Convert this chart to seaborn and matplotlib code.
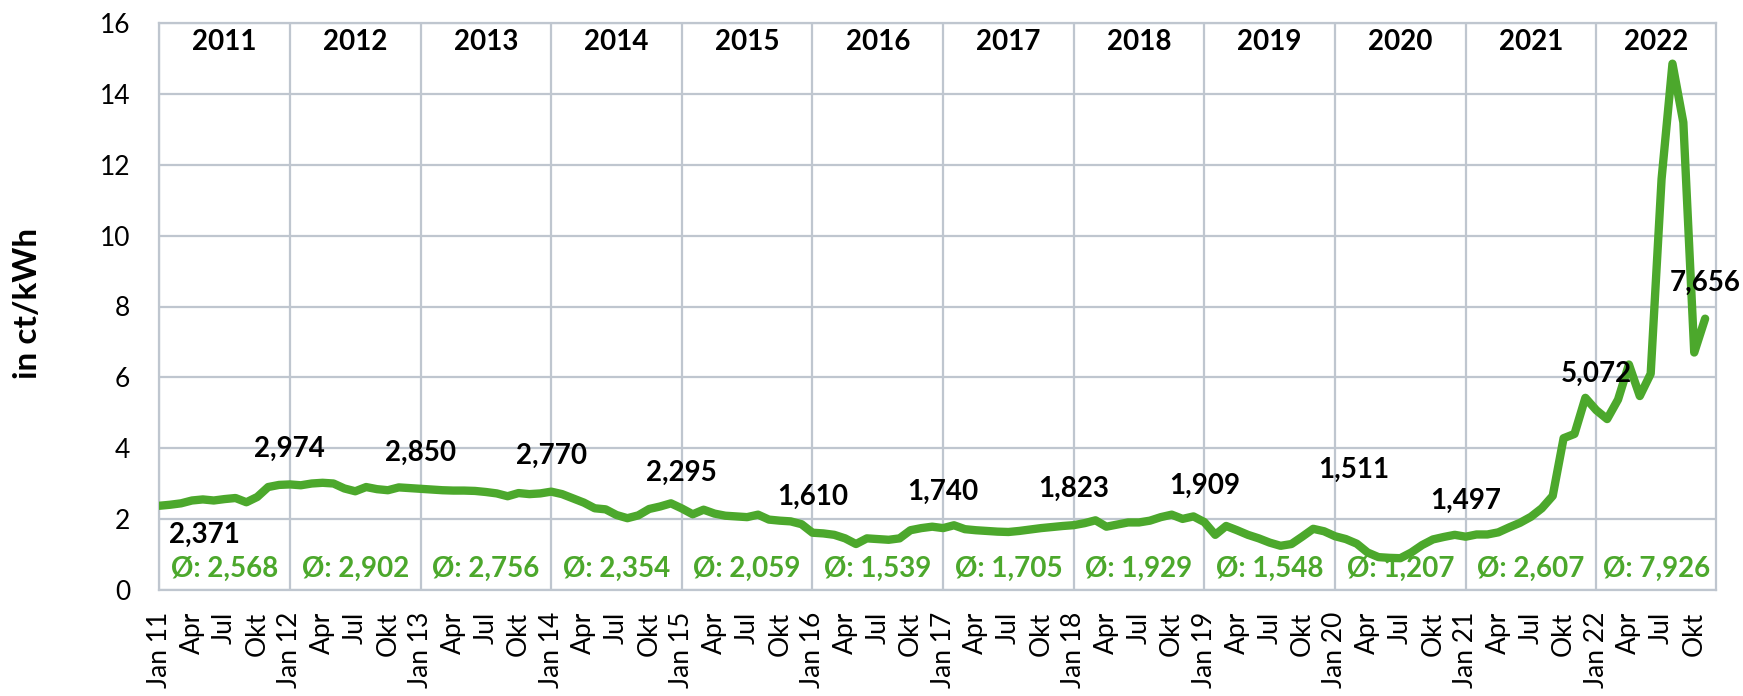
import numpy as np
import pandas as pd
import matplotlib
matplotlib.use("Agg")
import matplotlib.pyplot as plt
import seaborn as sns

# ---------------- data (ct/kWh, monthly) ----------------
years = [2011, 2012, 2013, 2014, 2015, 2016, 2017, 2018, 2019, 2020, 2021, 2022]
quarter_labels = ["Jan", "Apr", "Jul", "Okt"]

p2011 = [2.371, 2.40, 2.44, 2.52, 2.55, 2.52, 2.56, 2.59, 2.47, 2.62, 2.90, 2.96]
p2012 = [2.974, 2.95, 3.00, 3.02, 3.00, 2.86, 2.78, 2.90, 2.84, 2.81, 2.89, 2.87]
p2013 = [2.850, 2.83, 2.81, 2.80, 2.80, 2.79, 2.76, 2.72, 2.64, 2.73, 2.70, 2.72]
p2014 = [2.770, 2.70, 2.58, 2.46, 2.30, 2.27, 2.11, 2.02, 2.10, 2.28, 2.35, 2.44]
p2015 = [2.295, 2.13, 2.26, 2.15, 2.09, 2.07, 2.05, 2.12, 1.98, 1.95, 1.93, 1.85]
p2016 = [1.610, 1.59, 1.55, 1.45, 1.29, 1.45, 1.43, 1.41, 1.45, 1.68, 1.74, 1.78]
p2017 = [1.740, 1.82, 1.71, 1.68, 1.66, 1.64, 1.63, 1.66, 1.70, 1.74, 1.77, 1.80]
p2018 = [1.823, 1.88, 1.96, 1.78, 1.84, 1.90, 1.90, 1.95, 2.05, 2.12, 2.00, 2.07]
p2019 = [1.909, 1.55, 1.80, 1.68, 1.55, 1.45, 1.33, 1.24, 1.29, 1.50, 1.72, 1.65]
p2020 = [1.511, 1.43, 1.30, 1.05, 0.92, 0.90, 0.89, 1.05, 1.26, 1.42, 1.49, 1.55]
p2021 = [1.497, 1.56, 1.56, 1.62, 1.76, 1.89, 2.06, 2.30, 2.65, 4.28, 4.40, 5.42]
p2022 = [5.072, 4.82, 5.37, 6.36, 5.47, 6.10, 11.60, 14.86, 13.20, 6.70, 7.656]

year_avgs = [2.568, 2.902, 2.756, 2.354, 2.059, 1.539, 1.705, 1.929, 1.548, 1.207, 2.607, 7.926]

# ---------------- build frame ----------------
series = [p2011, p2012, p2013, p2014, p2015, p2016, p2017, p2018, p2019, p2020, p2021, p2022]
values = [v for s in series for v in s]
df = pd.DataFrame({"m": np.arange(len(values)), "price": values})
n_cats = 12 * len(years)  # Jan 11 .. Dec 22

GREEN = "#4CA82C"
GRID = "#BFC6CF"

sns.set_theme(style="white")
plt.rcParams["font.family"] = ["Lato", "DejaVu Sans"]

W, H = 1743, 696
fig = plt.figure(figsize=(W / 100, H / 100), dpi=100)
left, right, top, bottom = 159.3, 1716.0, 23.3, 589.7
ax = fig.add_axes([left / W, 1 - bottom / H, (right - left) / W, (bottom - top) / H])

sns.lineplot(data=df, x="m", y="price", ax=ax, color=GREEN, linewidth=6,
             solid_capstyle="round", solid_joinstyle="round", zorder=3)

ax.set_xlim(0, n_cats - 1)
ax.set_ylim(0, 16)

# ticks
qpos = list(range(0, len(values), 3))
qlab = []
for p in qpos:
    mi = (p % 12) // 3
    if mi == 0:
        qlab.append(f"Jan {str(years[p // 12])[2:]}")
    else:
        qlab.append(quarter_labels[mi])
ax.set_xticks(qpos)
ax.set_xticklabels(qlab, rotation=90, ha="center", va="top")
ax.xaxis.remove_overlapping_locs = False
ax.set_xticks([12 * k for k in range(len(years))], minor=True)
ax.set_yticks(range(0, 17, 2))
ax.tick_params(axis="x", which="both", length=0, pad=16, labelsize=19, colors="black")
ax.tick_params(axis="y", length=0, pad=21, labelsize=19, colors="black")

ax.grid(False)
ax.grid(axis="y", which="major", color=GRID, linewidth=1.6)
ax.grid(axis="x", which="minor", color=GRID, linewidth=1.6)
ax.set_axisbelow(True)
for sp in ax.spines.values():
    sp.set_color(GRID)
    sp.set_linewidth(1.6)
    sp.set_visible(True)

ax.set_xlabel("")
ax.set_ylabel("")
fig.text(27.5 / W, 1 - 303 / H, "in ct/kWh", rotation=90, ha="center", va="center",
         fontsize=24, fontweight="bold", color="black")

# year headers and averages
for k, (yr, avg) in enumerate(zip(years, year_avgs)):
    start = 12 * k
    end = min(start + 12, n_cats - 1)
    cx = (start + end) / 2
    ax.text(cx, 15.47, str(yr), ha="center", va="center", fontsize=20,
            fontweight="bold", color="black", zorder=5)
    ax.text(cx, 0.6, ("Ø: " + f"{avg:.3f}").replace(".", ","), ha="center", va="center",
            fontsize=20, fontweight="bold", color=GREEN, zorder=5)

# data labels (January values and last value)
label_idx = [12 * k for k in range(len(years))] + [len(values) - 1]
label_offsets = {0: (45, -29), 108: (19, 66)}
for i in label_idx:
    v = values[i]
    dx, dy = label_offsets.get(i, (0, 36))
    ax.annotate(f"{v:.3f}".replace(".", ","), xy=(i, v), xytext=(dx, dy),
                textcoords="offset pixels", ha="center", va="center",
                fontsize=20, fontweight="bold", color="black", zorder=6,
                annotation_clip=False)

fig.savefig("out.png", dpi=100)
